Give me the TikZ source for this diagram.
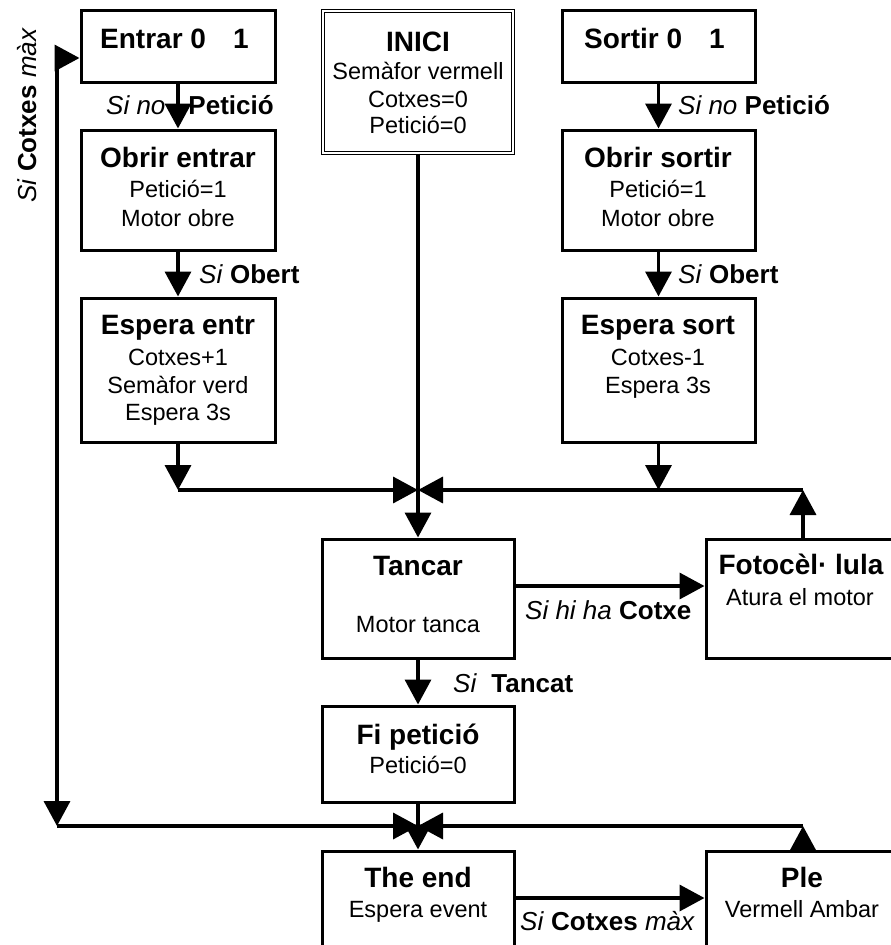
\documentclass[tikz,border=0pt]{standalone}
\usepackage{fontspec}
\setmainfont{Liberation Sans}
\usetikzlibrary{arrows.meta}
\begin{document}
\begin{tikzpicture}[x=1pt,y=-1pt,
  box/.style={draw, line width=3pt, inner sep=0pt, rectangle},
  dbox/.style={draw, double, double distance=1.8pt, line width=1.2pt, inner sep=0pt, rectangle},
  arr/.style={line width=3.6pt, -{Triangle[length=25pt,width=26pt]}},
  ttl/.style={anchor=base, font=\fontsize{28}{30}\selectfont\bfseries, inner sep=0pt},
  bdy/.style={anchor=base, font=\fontsize{23.5}{28}\selectfont, inner sep=0pt},
  lbl/.style={anchor=base west, font=\fontsize{26}{28}\selectfont, inner sep=0pt}]
\useasboundingbox (0,0) rectangle (891,945);
\clip (0,0) rectangle (891,945);

% boxes
\node[box, minimum width=194pt, minimum height=72pt] (entrar) at (178,46) {};
\node[box, minimum width=194pt, minimum height=120pt] (obrirE) at (178,190) {};
\node[box, minimum width=194pt, minimum height=144pt] (esperaE) at (178,370) {};
\node[dbox, minimum width=190pt, minimum height=142pt] (inici) at (418,82) {};
\node[box, minimum width=193pt, minimum height=72pt] (sortir) at (658.5,46) {};
\node[box, minimum width=193pt, minimum height=120pt] (obrirS) at (658.5,190) {};
\node[box, minimum width=193pt, minimum height=144pt] (esperaS) at (658.5,370) {};
\node[box, minimum width=192pt, minimum height=119pt] (tancar) at (418,598.5) {};
\node[box, minimum width=194pt, minimum height=119pt] (foto) at (803,598.5) {};
\node[box, minimum width=192pt, minimum height=96pt] (fi) at (418,754) {};
\node[box, minimum width=192pt, minimum height=109pt] (theend) at (418,905.5) {};
\node[box, minimum width=194pt, minimum height=109pt] (ple) at (803,905.5) {};

% texts
\node[ttl, anchor=base west] (tEntrar) at (100,48) {Entrar 0\hspace{27pt}1};
\node[ttl, anchor=base west] (tSortir) at (584,48) {Sortir 0\hspace{27pt}1};
\node[ttl] (tInici) at (418,51) {INICI};
\node[bdy] (tInici1) at (418,79) {Semàfor vermell};
\node[bdy] (tInici2) at (418,107) {Cotxes=0};
\node[bdy] (tInici3) at (418,133) {Petició=0};
\node[ttl] (tObrirE) at (178,167) {Obrir entrar};
\node[bdy] (tObrirE1) at (178,197) {Petició=1};
\node[bdy] (tObrirE2) at (178,226) {Motor obre};
\node[ttl] (tObrirS) at (658,167) {Obrir sortir};
\node[bdy] (tObrirS1) at (658,197) {Petició=1};
\node[bdy] (tObrirS2) at (658,226) {Motor obre};
\node[ttl] (tEspE) at (178,334) {Espera entr};
\node[bdy] (tEspE1) at (178,365) {Cotxes+1};
\node[bdy] (tEspE2) at (178,393) {Semàfor verd};
\node[bdy] (tEspE3) at (178,420) {Espera 3s};
\node[ttl] (tEspS) at (658,334) {Espera sort};
\node[bdy] (tEspS1) at (658,365) {Cotxes-1};
\node[bdy] (tEspS2) at (658,393) {Espera 3s};
\node[ttl] (tTancar) at (418,575) {Tancar};
\node[bdy] (tTancar1) at (418,632) {Motor tanca};
\node[ttl] (tFoto) at (801,574) {Fotocèl· lula};
\node[bdy] (tFoto1) at (800,605) {Atura el motor};
\node[ttl] (tFi) at (418,744) {Fi petició};
\node[bdy] (tFi1) at (418,773) {Petició=0};
\node[ttl] (tEnd) at (418,887) {The end};
\node[bdy] (tEnd1) at (418,917) {Espera event};
\node[ttl] (tPle) at (802,887) {Ple};
\node[bdy] (tPle1) at (802,917) {Vermell Ambar};

% labels
\node[lbl] (l1) at (106,114) {\textit{Si no}\hspace{23pt}\textbf{Petició}};
\node[lbl] (l2) at (199,283) {\textit{Si} \textbf{Obert}};
\node[lbl] (l3) at (678,114) {\textit{Si no} \textbf{Petició}};
\node[lbl] (l4) at (678,283) {\textit{Si} \textbf{Obert}};
\node[lbl] (l5) at (525,619) {\textit{Si hi ha} \textbf{Cotxe}};
\node[lbl] (l6) at (453,692) {\textit{Si}\ \ \textbf{Tancat}};
\node[lbl] (l7) at (520,930) {\textit{Si} \textbf{Cotxes} \textit{màx}};
\node[lbl, rotate=90] (l8) at (36,203) {\textit{Si} \textbf{Cotxes} \textit{màx}};

% coordinates
\coordinate (j1) at (418,490);
\coordinate (jl) at (178,490);
\coordinate (jm) at (658.5,490);
\coordinate (jr) at (803,490);
\coordinate (j2) at (418,826);
\coordinate (cTL) at (57,58);
\coordinate (cBL) at (57,826);
\coordinate (cBR) at (803,826);

% connectors
\draw[arr] (entrar.south) -- (obrirE.north);
\draw[arr] (obrirE.south) -- (esperaE.north);
\draw[arr] (sortir.south) -- (obrirS.north);
\draw[arr] (obrirS.south) -- (esperaS.north);
\draw[arr] (esperaE.south) -- (jl);
\draw[arr] (jl) -- (j1);
\draw[arr] (esperaS.south) -- (jm);
\draw[arr] (foto.north) -- (jr);
\draw[arr] (jr) -- (j1);
\draw[arr] (inici.south) -- (tancar.north);
\draw[arr] ([yshift=12.5pt]tancar.east) -- ([yshift=12.5pt]foto.west);
\draw[arr] (tancar.south) -- (fi.north);
\draw[arr] (fi.south) -- (theend.north);
\draw[arr] ([yshift=7.5pt]theend.east) -- ([yshift=7.5pt]ple.west);
\draw[arr] (ple.north) -- (cBR);
\draw[arr] (cBR) -- (j2);
\draw[arr] (cBL) -- (j2);
\draw[arr] (cTL) -- (cBL);
\draw[arr] (cTL) -- ([yshift=-12pt]entrar.west);
\end{tikzpicture}
\end{document}
